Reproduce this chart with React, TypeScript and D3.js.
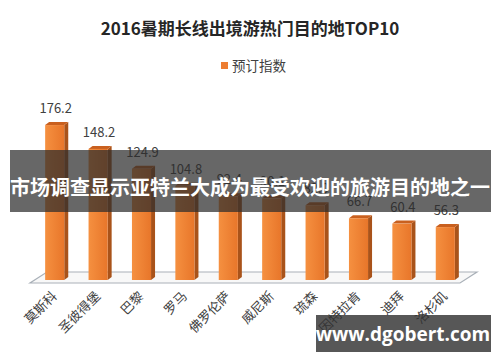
import { useEffect, useRef } from "react";
import * as d3 from "d3";

const title = "2016暑期长线出境游热门目的地TOP10";
const seriesName = "预订指数";
const cities = ["莫斯科", "圣彼得堡", "巴黎", "罗马", "佛罗伦萨", "威尼斯", "琉森", "因特拉肯", "迪拜", "洛杉矶"];
const bookingIndex = [176.2, 148.2, 124.9, 104.8, 92.4, 90.1, 82.0, 66.7, 60.4, 56.3];
const bannerText = "市场调查显示亚特兰大成为最受欢迎的旅游目的地之一";
const watermark = "www.dgobert.com";

const W = 500;
const H = 362;
const FONT = "'Noto Sans CJK SC', 'Noto Sans', sans-serif";

const App = () => {
  const ref = useRef<SVGSVGElement | null>(null);

  useEffect(() => {
    const svg = d3.select(ref.current);
    svg.selectAll("*").remove();

    const floorY = 280; // bottom of bar fronts
    const depthX = 4;
    const depthY = 3;

    const x = d3.scaleBand<string>().domain(cities).range([33, 467]).paddingInner(0.56).paddingOuter(0.28);
    const y = d3.scaleLinear().domain([0, 200]).range([275, 275 - 170.2]);

    const defs = svg.append("defs");
    const grad = defs.append("linearGradient").attr("id", "front").attr("x1", "0").attr("x2", "1");
    grad.append("stop").attr("offset", "0%").attr("stop-color", "#f59040");
    grad.append("stop").attr("offset", "100%").attr("stop-color", "#e8762a");

    svg.append("rect").attr("width", W).attr("height", H).attr("fill", "#fff");

    // title + legend
    svg.append("text")
      .attr("x", 250).attr("y", 35)
      .attr("text-anchor", "middle")
      .style("font-family", FONT).style("font-size", "17px").style("font-weight", "bold")
      .attr("fill", "#262626")
      .text(title);

    svg.append("rect").attr("x", 221).attr("y", 62).attr("width", 7).attr("height", 7).attr("fill", "#ed7d31");
    svg.append("text")
      .attr("x", 232).attr("y", 71)
      .style("font-family", FONT).style("font-size", "13.5px")
      .attr("fill", "#404040")
      .text(seriesName);

    // floor
    const [x0, x1] = x.range();
    svg.append("path")
      .attr("d", `M${x0 - 3},${floorY + 3} L${x1 - 7},${floorY + 3} L${x1 + 10},${floorY - 8} L${x0 + 14},${floorY - 8} Z`)
      .attr("fill", "#f8f8f8")
      .attr("stroke", "#a9b0b8")
      .attr("stroke-width", 1.2);

    const bw = x.bandwidth();
    const bars = svg.append("g").selectAll("g").data(cities).enter().append("g");

    bars.append("path")
      .attr("d", (d, i) => {
        const l = x(d)! + bw;
        const t = y(bookingIndex[i]);
        return `M${l},${t} L${l + depthX},${t - depthY} L${l + depthX},${floorY - depthY} L${l},${floorY} Z`;
      })
      .attr("fill", "#a9531a");

    bars.append("path")
      .attr("d", (d, i) => {
        const l = x(d)!;
        const t = y(bookingIndex[i]);
        return `M${l},${t} L${l + depthX},${t - depthY} L${l + bw + depthX},${t - depthY} L${l + bw},${t} Z`;
      })
      .attr("fill", "#c9601f");

    bars.append("rect")
      .attr("x", (d) => x(d)!)
      .attr("y", (d, i) => y(bookingIndex[i]))
      .attr("width", bw)
      .attr("height", (d, i) => floorY - y(bookingIndex[i]))
      .attr("fill", "url(#front)");

    bars.append("text")
      .attr("x", (d) => x(d)! + bw / 2 + 1)
      .attr("y", (d, i) => y(bookingIndex[i]) - 12)
      .attr("text-anchor", "middle")
      .style("font-family", FONT).style("font-size", "13px")
      .attr("fill", "#404040")
      .text((d, i) => bookingIndex[i].toFixed(1));

    bars.append("text")
      .attr("transform", (d) => `translate(${x(d)! + bw / 2 + 3},${floorY + 17}) rotate(-45)`)
      .attr("text-anchor", "end")
      .style("font-family", FONT).style("font-size", "13px")
      .attr("fill", "#404040")
      .text((d) => d);

    // banner overlay
    svg.append("rect").attr("x", 10).attr("y", 150).attr("width", 481).attr("height", 62).attr("fill", "rgba(45,45,45,0.72)");
    svg.append("text")
      .attr("x", 250).attr("y", 195)
      .attr("text-anchor", "middle")
      .style("font-family", FONT).style("font-size", "20px").style("font-weight", "bold")
      .attr("fill", "#fff")
      .text(bannerText);

    // watermark
    svg.append("rect").attr("x", 316).attr("y", 315).attr("width", 175).attr("height", 37).attr("fill", "rgba(50,50,50,0.82)");
    svg.append("text")
      .attr("x", 403).attr("y", 341)
      .attr("text-anchor", "middle")
      .style("font-family", "'Open Sans', sans-serif").style("font-size", "19px").style("font-weight", "bold")
      .attr("fill", "#fff")
      .text(watermark);
  }, []);

  return (
    <svg ref={ref} width={W} height={H} style={{ position: "absolute", left: 0, top: 0, display: "block" }} />
  );
};

export default App;
